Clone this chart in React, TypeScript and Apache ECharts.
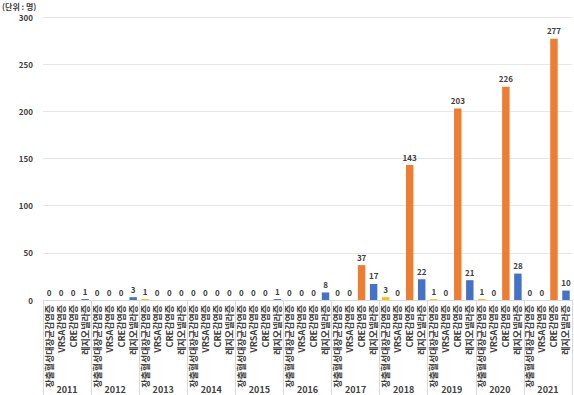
import React, { useEffect, useRef } from "react";
import * as echarts from "echarts";

const years = ["2011", "2012", "2013", "2014", "2015", "2016", "2017", "2018", "2019", "2020", "2021"];
const diseases = ["장출혈성대장균감염증", "VRSA감염증", "CRE감염증", "레지오넬라증"];
const diseaseColors = ["#FFC000", "#A5A5A5", "#ED7D31", "#4472C4"];
// values per year: [장출혈성대장균감염증, VRSA감염증, CRE감염증, 레지오넬라증]
const ehec = [0, 0, 1, 0, 0, 0, 0, 3, 1, 1, 0];
const vrsa = [0, 0, 0, 0, 0, 0, 0, 0, 0, 0, 0];
const cre = [0, 0, 0, 0, 0, 0, 37, 143, 203, 226, 277];
const legionella = [1, 3, 0, 0, 1, 8, 17, 22, 21, 28, 10];
const yTicks = { min: 0, max: 300, interval: 50 };

export default function App() {
  const ref = useRef<HTMLDivElement>(null);
  useEffect(() => {
    if (!ref.current) return;
    const chart = echarts.init(ref.current, null, { renderer: "svg" });
    const seriesArrays = [ehec, vrsa, cre, legionella];
    const cats: string[] = [];
    const data: any[] = [];
    years.forEach((y, yi) => {
      diseases.forEach((d, di) => {
        cats.push(d);
        data.push({ value: seriesArrays[di][yi], itemStyle: { color: diseaseColors[di] } });
      });
    });
    const font = "'Noto Sans CJK KR', 'Noto Sans', sans-serif";
    chart.setOption({
      animation: false,
      textStyle: { fontFamily: font },
      grid: { left: 43, right: 2, top: 17, bottom: 95, containLabel: false, outerBoundsMode: "none" },
      graphic: [
        {
          type: "text",
          left: 2,
          top: 2,
          style: { text: "(단위 : 명)", fontSize: 8, fontWeight: "bold", fill: "#404040", fontFamily: font },
        },
      ],
      xAxis: [
        {
          type: "category",
          data: cats,
          position: "bottom",
          axisLine: { show: true, lineStyle: { color: "#d9d9d9" } },
          axisTick: { show: false },
          axisLabel: {
            interval: 0,
            rotate: 90,
            fontSize: 9,
            fontWeight: "bold",
            color: "#404040",
            margin: 5,
            fontFamily: font,
          },
        },
        {
          type: "category",
          data: years,
          position: "bottom",
          axisLine: { show: false },
          axisTick: { show: true, length: 95, lineStyle: { color: "#d9d9d9" } },
          axisLabel: {
            interval: 0,
            fontSize: 9,
            fontWeight: "bold",
            color: "#404040",
            margin: 85,
            fontFamily: font,
          },
        },
      ],
      yAxis: {
        type: "value",
        min: yTicks.min,
        max: yTicks.max,
        interval: yTicks.interval,
        axisLine: { show: false },
        axisTick: { show: false },
        splitLine: { lineStyle: { color: "#e6e6e6" } },
        axisLabel: { fontSize: 8, fontWeight: "bold", color: "#404040", margin: 10, fontFamily: font },
      },
      series: [
        {
          type: "bar",
          xAxisIndex: 0,
          data,
          barWidth: "62%",
          label: {
            show: true,
            position: "top",
            distance: 4,
            fontSize: 8,
            fontWeight: "bold",
            color: "#404040",
            fontFamily: font,
          },
        },
      ],
    });
    return () => chart.dispose();
  }, []);
  return <div ref={ref} style={{ width: 574, height: 395, position: "absolute", left: 0, top: 0 }} />;
}
